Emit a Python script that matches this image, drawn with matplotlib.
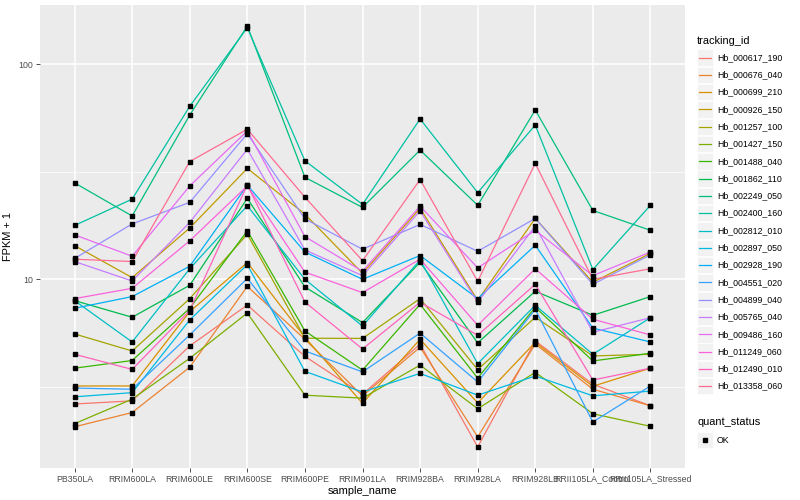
import matplotlib
matplotlib.use("Agg")
import matplotlib.pyplot as plt
from matplotlib.patches import Rectangle
import numpy as np

# samples on the x axis
samples = ['PB350LA', 'RRIM600LA', 'RRIM600LE', 'RRIM600SE', 'RRIM600PE',
           'RRIM901LA', 'RRIM928BA', 'RRIM928LA', 'RRIM928LB',
           'RRII105LA_Control', 'RRII105LA_Stressed']

tracking_ids = ['Hb_000617_190', 'Hb_000676_040', 'Hb_000699_210', 'Hb_000926_150',
                'Hb_001257_100', 'Hb_001427_150', 'Hb_001488_040', 'Hb_001862_110',
                'Hb_002249_050', 'Hb_002400_160', 'Hb_002812_010', 'Hb_002897_050',
                'Hb_002928_190', 'Hb_004551_020', 'Hb_004899_040', 'Hb_005765_040',
                'Hb_009486_160', 'Hb_011249_060', 'Hb_012490_010', 'Hb_013358_060']

# ggplot default hue palette for 20 levels
colors = ['#F8766D', '#EA8331', '#D89000', '#C09B00', '#A3A500', '#7CAE00',
          '#39B600', '#00BB4E', '#00BF7D', '#00C1A3', '#00BFC4', '#00BAE0',
          '#00B0F6', '#35A2FF', '#9590FF', '#C77CFF', '#E76BF3', '#FA62DB',
          '#FF62BC', '#FF6C91']

# FPKM + 1 per gene, one value per sample
hb_000617_190 = [2.63, 2.72, 4.90, 7.59, 4.38, 2.92, 4.99, 1.66, 5.17, 3.25, 2.58]
hb_000676_040 = [2.06, 2.40, 3.90, 9.27, 5.26, 2.87, 4.83, 1.85, 5.00, 3.08, 2.58]
hb_000699_210 = [3.19, 3.19, 7.08, 11.96, 5.37, 2.65, 5.26, 2.66, 5.09, 3.18, 3.86]
hb_000926_150 = [14.35, 10.18, 17.33, 32.8, 20.1, 10.66, 21.4, 7.98, 19.2, 9.69, 13.2]
hb_001257_100 = [5.57, 4.64, 8.13, 16.2, 5.32, 5.31, 8.13, 3.80, 6.66, 4.40, 4.48]
hb_001427_150 = [2.13, 2.77, 4.29, 6.97, 2.89, 2.80, 3.99, 2.50, 3.69, 2.37, 2.07]
hb_001488_040 = [3.86, 4.19, 7.33, 16.8, 5.75, 3.78, 7.65, 3.47, 7.41, 4.17, 4.53]
hb_001862_110 = [7.96, 6.66, 9.38, 23.8, 9.21, 6.29, 12.0, 5.06, 8.80, 6.80, 8.31]
hb_002249_050 = [28.1, 19.7, 58.1, 150.7, 29.8, 21.6, 39.9, 22.1, 61.3, 20.9, 16.9]
hb_002400_160 = [17.8, 23.6, 63.8, 148.0, 35.6, 22.3, 55.7, 25.3, 52.2, 11.1, 22.1]
hb_002812_010 = [7.96, 5.11, 11.2, 22.0, 10.0, 6.06, 12.3, 4.05, 7.57, 4.48, 6.63]
hb_002897_050 = [2.84, 2.97, 6.47, 11.7, 3.73, 2.99, 3.65, 2.89, 3.55, 2.87, 3.02]
hb_002928_190 = [7.33, 8.31, 11.5, 27.4, 13.4, 10.0, 12.9, 8.13, 14.4, 5.93, 5.11]
hb_004551_020 = [3.12, 3.08, 5.51, 10.1, 4.64, 3.71, 5.62, 3.33, 7.25, 2.17, 3.19]
hb_004899_040 = [12.5, 18.1, 22.8, 47.6, 19.1, 13.8, 18.0, 13.5, 19.2, 9.48, 13.0]
hb_005765_040 = [12.1, 9.82, 18.4, 40.3, 13.7, 10.4, 20.8, 7.82, 17.7, 5.67, 6.63]
hb_009486_160 = [16.1, 12.8, 27.2, 49.0, 15.8, 10.9, 21.9, 11.3, 16.9, 10.4, 13.4]
hb_011249_060 = [8.13, 9.08, 15.1, 27.2, 10.8, 8.67, 12.4, 6.11, 11.2, 6.52, 5.51]
hb_012490_010 = [4.48, 3.81, 7.17, 27.5, 7.84, 4.74, 7.82, 5.49, 9.48, 3.40, 3.86]
hb_013358_060 = [12.4, 12.1, 35.3, 49.9, 24.1, 12.2, 29.1, 9.79, 34.6, 10.0, 11.2]

series = [hb_000617_190, hb_000676_040, hb_000699_210, hb_000926_150,
          hb_001257_100, hb_001427_150, hb_001488_040, hb_001862_110,
          hb_002249_050, hb_002400_160, hb_002812_010, hb_002897_050,
          hb_002928_190, hb_004551_020, hb_004899_040, hb_005765_040,
          hb_009486_160, hb_011249_060, hb_012490_010, hb_013358_060]

plt.rcParams['font.family'] = ['Liberation Sans', 'DejaVu Sans']

W, H = 800, 500
fig = plt.figure(figsize=(8, 5), dpi=100)
ax = fig.add_axes([40 / W, 1 - 468 / H, 645 / W, 463 / H])
ax.set_facecolor('#EBEBEB')
for s in ax.spines.values():
    s.set_visible(False)

x = np.arange(len(samples))
for vals, c in zip(series, colors):
    ax.plot(x, vals, color=c, lw=0.9, zorder=3)
for vals in series:
    ax.plot(x, vals, ls='none', marker='s', ms=2.6, color='black', zorder=4)

ax.set_yscale('log')
allv = np.log10(np.concatenate(series))
lo, hi = allv.min(), allv.max()
pad = 0.05 * (hi - lo)
ax.set_ylim(10 ** (lo - pad), 10 ** (hi + pad))
ax.set_xlim(-0.6, len(samples) - 0.4)

ax.set_yticks([10, 100])
ax.set_yticklabels(['10', '100'])
ax.set_yticks([10 ** 0.5, 10 ** 1.5], minor=True)
ax.yaxis.set_minor_formatter(plt.NullFormatter())
ax.set_xticks(x)
ax.set_xticklabels(samples)
ax.grid(which='major', color='white', lw=1.1, zorder=0)
ax.grid(which='minor', axis='y', color='white', lw=0.5, zorder=0)
ax.set_axisbelow(True)
ax.tick_params(axis='both', which='major', length=2.7, width=0.6, color='#333333',
               labelsize=6.3, labelcolor='#4D4D4D', pad=2)
ax.tick_params(axis='y', which='minor', length=0)
ax.set_xlabel('sample_name', fontsize=7.9, labelpad=2)
ax.set_ylabel('FPKM + 1', fontsize=7.9, labelpad=4)

# legend drawn in pixel coordinates on an overlay
lg = fig.add_axes([0, 0, 1, 1], facecolor='none')
lg.set_xlim(0, W)
lg.set_ylim(H, 0)
lg.axis('off')
lg.text(697, 41, 'tracking_id', fontsize=7.9, va='center', ha='left')
for i, (tid, c) in enumerate(zip(tracking_ids, colors)):
    yc = 57.5 + i * 17.3
    lg.add_patch(Rectangle((697, yc - 8.2), 16.4, 16.4, facecolor='#F2F2F2',
                           edgecolor='white', lw=0.5))
    lg.plot([699, 711], [yc, yc], color=c, lw=0.9)
    lg.text(717, yc, tid, fontsize=6.3, va='center', ha='left')
lg.text(697, 422, 'quant_status', fontsize=7.9, va='center', ha='left')
lg.add_patch(Rectangle((697, 432), 16.4, 16.4, facecolor='#F2F2F2',
                       edgecolor='white', lw=0.5))
lg.plot([705], [440.2], ls='none', marker='s', ms=2.6, color='black')
lg.text(717, 440.2, 'OK', fontsize=6.3, va='center', ha='left')

fig.savefig('out.png', dpi=100)
